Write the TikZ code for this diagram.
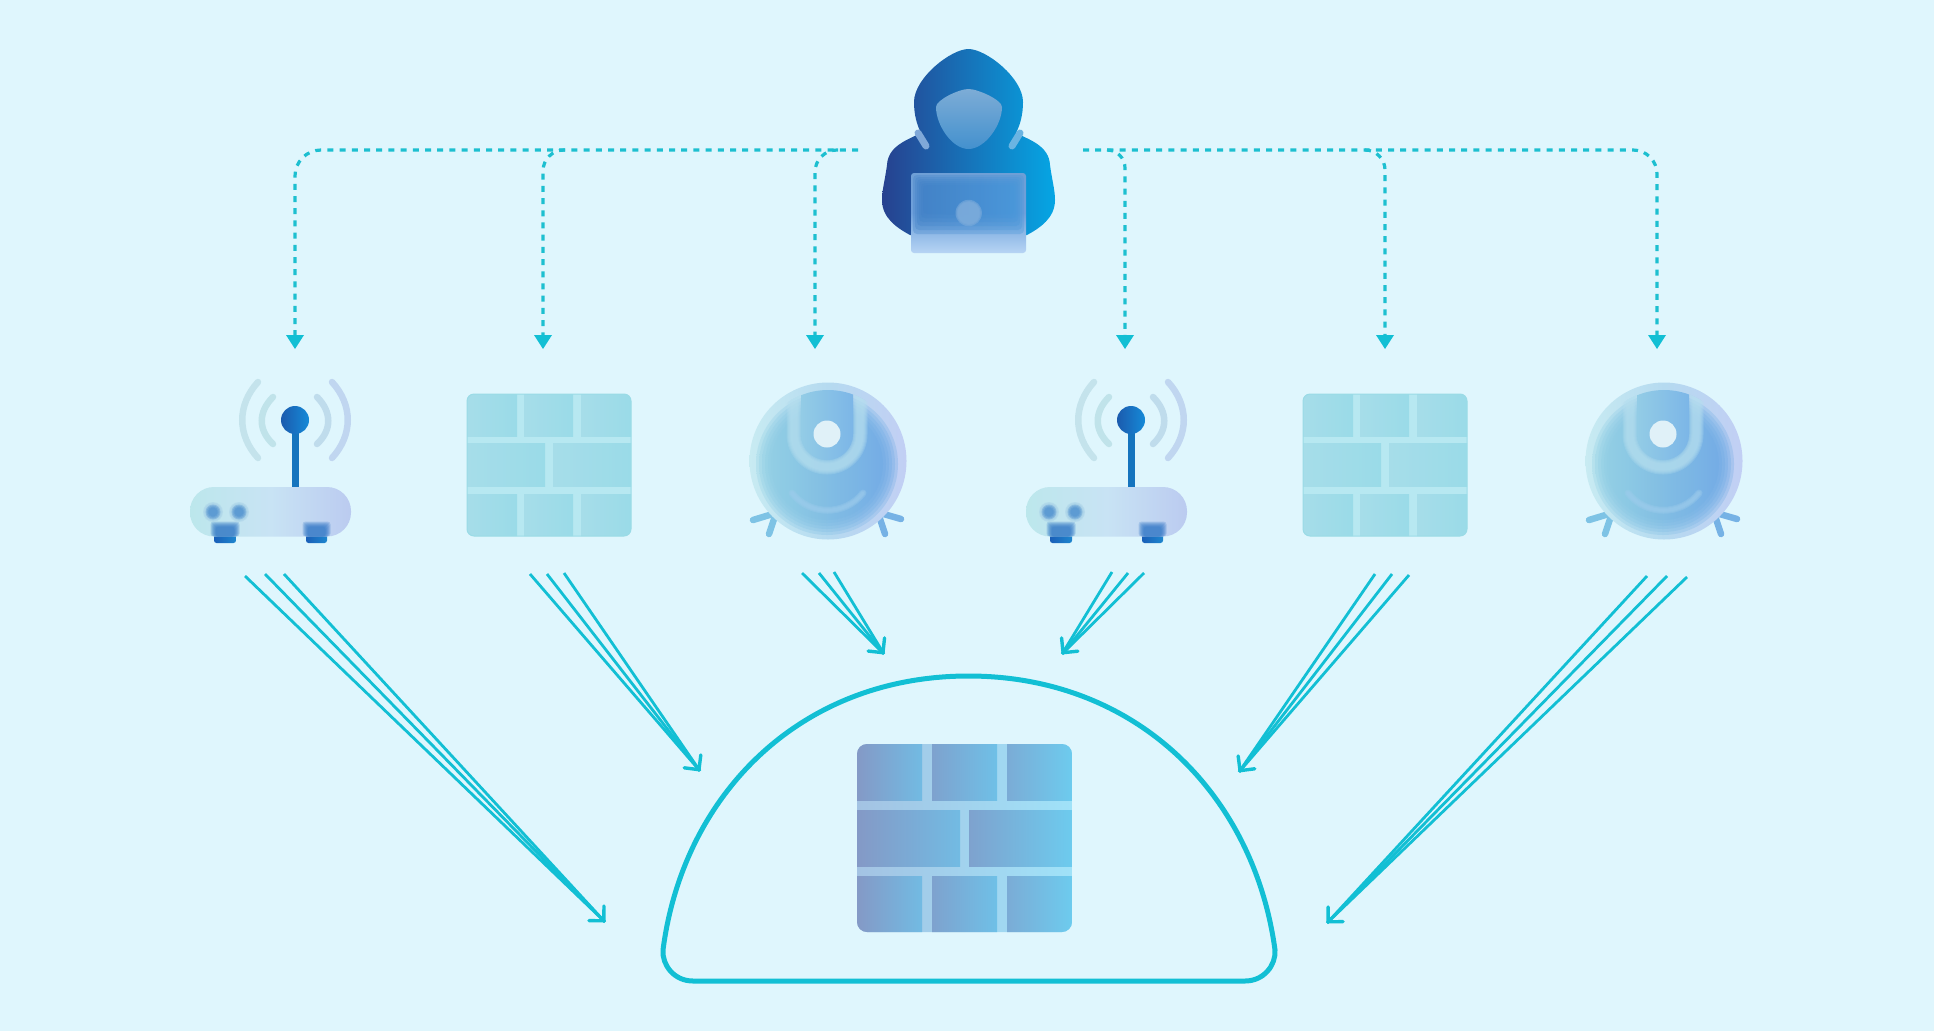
\documentclass[tikz,border=0pt]{standalone}
\usetikzlibrary{arrows.meta}
\definecolor{bgc}{HTML}{DFF6FD}
\definecolor{teal}{HTML}{12BFD4}
\definecolor{dashc}{HTML}{1DBFD0}
\definecolor{wavL}{HTML}{C4E3EC}\definecolor{wavIL}{HTML}{C0E3EA}
\definecolor{wavIR}{HTML}{BFDCEC}\definecolor{wavR}{HTML}{C0D6F0}
\definecolor{stemc}{HTML}{1574BE}\definecolor{ballL}{HTML}{1B5BAE}\definecolor{ballR}{HTML}{158AD8}
\definecolor{footL}{HTML}{1A5FB8}\definecolor{footR}{HTML}{1E86CE}\definecolor{footB}{HTML}{2A72C4}
\definecolor{routL}{HTML}{BCE7EC}\definecolor{routM}{HTML}{C8E3F4}\definecolor{routR}{HTML}{BBCBF0}
\definecolor{dotH}{HTML}{A9D2E8}\definecolor{dotC}{HTML}{4A8DCF}
\definecolor{mortS}{HTML}{B7E8F1}\definecolor{brikL}{HTML}{A6DDE9}\definecolor{brikR}{HTML}{9ADBE8}\definecolor{brikE}{HTML}{9ADBE6}
\definecolor{legL}{HTML}{7EC3E5}\definecolor{legR}{HTML}{76B2E5}
\definecolor{glassL}{HTML}{C8EBF2}\definecolor{glassM}{HTML}{B5DAF0}\definecolor{glassR}{HTML}{C2CFF4}
\definecolor{blueL}{HTML}{8DCEE3}\definecolor{blueR}{HTML}{69A7E4}
\definecolor{uband}{HTML}{B6DFEF}\definecolor{uInL}{HTML}{93CCE6}\definecolor{uInR}{HTML}{7CB6E7}
\definecolor{smile}{HTML}{9DCCEC}\definecolor{hubc}{HTML}{E0F1F8}
\definecolor{hoodL}{HTML}{27418F}\definecolor{hoodM}{HTML}{1576C0}\definecolor{hoodR}{HTML}{05A6E4}
\definecolor{bkA}{HTML}{8499C6}\definecolor{bkB}{HTML}{72BBE3}\definecolor{bkC}{HTML}{7EA2CE}
\definecolor{bkD}{HTML}{6FC0E7}\definecolor{bkE}{HTML}{7BACD6}\definecolor{bkF}{HTML}{6DCBEE}
\definecolor{mtL}{HTML}{A3C3E3}\definecolor{mtR}{HTML}{A0E2F8}
\definecolor{lapB}{HTML}{B7D4F4}\definecolor{lapC}{HTML}{8DB8E6}\definecolor{lapD}{HTML}{6E9FDB}\definecolor{lapT}{HTML}{6E9FD6}
\definecolor{lapIL}{HTML}{3F80C6}\definecolor{lapIR}{HTML}{4697DA}
\definecolor{mask1}{HTML}{7DACD6}\definecolor{mask2}{HTML}{4391CE}
\definecolor{strapc}{HTML}{7FA8D8}\definecolor{strapd}{HTML}{6AB4E2}
\definecolor{hubd}{HTML}{7BABDB}
\pgfdeclareverticalshading{lapshade}{100bp}{
  color(0bp)=(lapB); color(25bp)=(lapB); color(38bp)=(lapC); color(50bp)=(lapD); color(75bp)=(lapT); color(100bp)=(lapT)}
\tikzset{
  x=1pt,y=-1pt,
  dashflow/.style={draw=dashc,line width=3.2pt,dash pattern=on 6pt off 6.2pt,
    -{Triangle[length=14pt,width=18pt,color=teal,line width=0pt]}},
  fan/.style={draw=teal,line width=2.8pt},
  fanhead/.style={fan,-{Straight Barb[length=10.5pt,width=21pt,line width=3.4pt,round]}},
  dome/.style={draw=teal,line width=5pt},
  router/.pic={
    % waves
    \draw[line width=6.5pt,line cap=round,draw=wavL] (258,382) .. controls (237,405) and (237,435) .. (258,458);
    \draw[line width=6.5pt,line cap=round,draw=wavIL] (273,397) .. controls (258,412) and (258,430) .. (273,444);
    \draw[line width=6.5pt,line cap=round,draw=wavIR] (317,397) .. controls (332,412) and (332,430) .. (317,444);
    \draw[line width=6.5pt,line cap=round,draw=wavR] (332,382) .. controls (353,405) and (353,435) .. (332,458);
    % stem and ball
    \fill[stemc] (291.5,425) rectangle (298.5,488);
    \shade[left color=ballL,right color=ballR] (295,420) circle[radius=14];
    % feet
    \shade[left color=footL,right color=footR,rounded corners=2.5pt] (214,528) rectangle (236,543);
    \shade[left color=footL,right color=footR,rounded corners=2.5pt] (306,528) rectangle (327,543);
    % body
    \shade[left color=routL,right color=routR,middle color=routM,rounded corners=24pt] (190,487) rectangle (351,536.5);
    % blurred feet behind the glass
    \foreach \d in {3.5,2.5,1.5,0.5,-0.5,-1.5}{
      \fill[footB,opacity=.22,rounded corners=3pt] (214-\d,525-\d) rectangle (236+\d,536.5);
      \fill[footB,opacity=.22,rounded corners=3pt] (306-\d,525-\d) rectangle (327+\d,536.5);
    }
    % dots
    \foreach \cx in {213,239}{
      \foreach \r in {10,9,8}{\fill[dotH,opacity=.5] (\cx,512) circle[radius=\r];}
      \foreach \r in {7.5,6.5,5.5,4.5}{\fill[dotC,opacity=.32] (\cx,512) circle[radius=\r];}
    }
  },
  brick/.pic={
    \begin{scope}
      \clip[rounded corners=7pt] (467,394) rectangle (631,536);
      \fill[mortS] (467,394) rectangle (631,536);
      \foreach \a/\b/\c/\d in {467/394/517/436,524/394/573/436,581/394/631/436,
                               467/443.5/545/486.5,553/443.5/631/486.5,
                               467/494/517/536,524/494/573/536,581/494/631/536}{
        \shade[left color=brikL,right color=brikR] (\a,\b) rectangle (\c,\d);
      }
    \end{scope}
    \draw[brikE,line width=1pt,rounded corners=7pt] (467,394) rectangle (631,536);
  },
  robot/.pic={
    % legs
    \draw[line width=6.5pt,line cap=round,draw=legL] (753,520) -- (776,513);
    \draw[line width=6.5pt,line cap=round,draw=legL] (769,534) -- (775,516);
    \draw[line width=6.5pt,line cap=round,draw=legR] (901,519) -- (880,513);
    \draw[line width=6.5pt,line cap=round,draw=legR] (885,534) -- (879,516);
    % glass disc
    \shade[left color=glassL,right color=glassR,middle color=glassM] (828,461) circle[radius=78.5];
    % inner blue with blurred rim
    \foreach \r in {71,68,65,62,59,56}{
      \shade[left color=blueL,right color=blueR,opacity=.28] (827,464) circle[radius=\r];
    }
    % U band (blurred) and U interior, kept inside the disc
    \begin{scope}
      \clip (828,461) circle[radius=71];
      \foreach \w in {15,13,11,9,7}{
        \draw[draw=uband,line width=\w pt,opacity=.26] (794,380)
           -- (794,434) arc[start angle=180,delta angle=-180,radius=33] -- (860,380);
      }
      \shade[left color=uInL,right color=uInR] (801,380) -- (801,434)
         arc[start angle=180,delta angle=-180,radius=26] -- (853,380) -- cycle;
    \end{scope}
    % smile
    \foreach \w in {7,5,3}{
      \draw[draw=smile,line width=\w pt,line cap=round,opacity=.35] (792,493) .. controls (810,516) and (845,516) .. (863,493);
    }
    % centre
    \fill[hubc] (827,434) circle[radius=13.5];
  }
}
\begin{document}
\begin{tikzpicture}
\useasboundingbox (0,0) rectangle (1934,1031);
\fill[bgc] (0,0) rectangle (1934,1031);

% named anchor points of the connectors
\coordinate (hackL) at (858,150);
\coordinate (hackR) at (1083,150);
\coordinate (br2) at (565,150);
\coordinate (br3) at (838,150);
\coordinate (br5) at (1107,150);
\coordinate (br6) at (1365,150);
\coordinate (in1) at (295,349);
\coordinate (in2) at (543,349);
\coordinate (in3) at (815,349);
\coordinate (in4) at (1125,349);
\coordinate (in5) at (1385,349);
\coordinate (in6) at (1657,349);
\draw[dashflow,rounded corners=26pt] (hackL) -| (in1);
\draw[dashflow,rounded corners=21pt] (br2) -| (in2);
\draw[dashflow,rounded corners=22pt] (br3) -| (in3);
\draw[dashflow,rounded corners=24pt] (hackR) -| (in6);
\draw[dashflow,rounded corners=18pt] (br5) -| (in4);
\draw[dashflow,rounded corners=20pt] (br6) -| (in5);

% hacker
\shade[left color=hoodL,middle color=hoodM,right color=hoodR]
  (968.5,49) .. controls (986,49) and (1023,78) .. (1023,102)
  .. controls (1023,115) and (1020,125) .. (1016,133)
  .. controls (1030,140) and (1049,146) .. (1050,165)
  .. controls (1052,180) and (1055,190) .. (1055,200)
  .. controls (1055,218) and (1040,228) .. (1027,235)
  -- (910,235)
  .. controls (897,228) and (882,218) .. (882,200)
  .. controls (882,190) and (885,180) .. (887,165)
  .. controls (888,146) and (907,140) .. (921,133)
  .. controls (917,125) and (914,115) .. (914,102)
  .. controls (914,78) and (951,49) .. (968.5,49) -- cycle;
\shade[top color=mask1,bottom color=mask2]
  (968.5,89) .. controls (978,89) and (1002,100) .. (1002,107)
  .. controls (1002,125) and (985,149) .. (968.5,149)
  .. controls (952,149) and (936,125) .. (936,107)
  .. controls (936,100) and (959,89) .. (968.5,89) -- cycle;
\draw[line width=7pt,line cap=round,draw=strapc] (918,133) -- (926,146);
\draw[line width=7pt,line cap=round,draw=strapd] (1020,133) -- (1012,146);
% laptop
\shade[shading=lapshade,rounded corners=3pt] (911,173) rectangle (1026,253);
\foreach \i in {2,4,6,8,10,12}{
  \shade[left color=lapIL,right color=lapIR,opacity=.3,rounded corners=4pt]
     (911+\i,173+\i) rectangle (1026-\i,238-\i*2);
}
\foreach \r in {13.2,12,11}{\fill[hubd,opacity=.6] (968.7,213) circle[radius=\r];}

% devices
\pic at (0,0) {router};
\pic at (836,0) {router};
\pic at (0,0) {brick};
\pic at (836,0) {brick};
\pic at (0,0) {robot};
\pic at (836,0) {robot};

% fans of attack lines
\coordinate (s1a) at (245,576); \coordinate (s1b) at (265,574); \coordinate (s1c) at (284,574); \coordinate (t1) at (605,922);
\coordinate (s2a) at (530,574); \coordinate (s2b) at (547,574); \coordinate (s2c) at (564,573); \coordinate (t2) at (700,771);
\coordinate (s3a) at (802,573); \coordinate (s3b) at (819,573); \coordinate (s3c) at (834,572); \coordinate (t3) at (884,654);
\coordinate (s4a) at (1112,572); \coordinate (s4b) at (1128,573); \coordinate (s4c) at (1144,573); \coordinate (t4) at (1062,654);
\coordinate (s5a) at (1375,574); \coordinate (s5b) at (1392,574); \coordinate (s5c) at (1409,575); \coordinate (t5) at (1239,772);
\coordinate (s6a) at (1647,576); \coordinate (s6b) at (1667,576); \coordinate (s6c) at (1687,577); \coordinate (t6) at (1327,923);
\foreach \g in {1,...,6}{
  \draw[fan] (s\g a) -- (t\g);
  \draw[fan] (s\g c) -- (t\g);
  \draw[fanhead] (s\g b) -- (t\g);
}

% dome
\draw[dome] (693,981) -- (1245,981)
  .. controls (1264,981) and (1276,965) .. (1275,950)
  .. controls (1254,795) and (1137,676) .. (968.5,676)
  .. controls (800,676) and (683,795) .. (663,950)
  .. controls (662,965) and (674,981) .. (693,981) -- cycle;

% central firewall
\begin{scope}
  \clip[rounded corners=10pt] (857,744) rectangle (1072,932);
  \shade[left color=mtL,right color=mtR] (857,744) rectangle (1072,932);
  \shade[left color=bkA,right color=bkB] (857,744) rectangle (922,800.5);
  \shade[left color=bkC,right color=bkD] (932,744) rectangle (997,800.5);
  \shade[left color=bkE,right color=bkF] (1007,744) rectangle (1072,800.5);
  \shade[left color=bkA,right color=bkB] (857,810) rectangle (960,866.5);
  \shade[left color=bkC,right color=bkF] (969,810) rectangle (1072,866.5);
  \shade[left color=bkA,right color=bkB] (857,876) rectangle (922,932);
  \shade[left color=bkC,right color=bkD] (932,876) rectangle (997,932);
  \shade[left color=bkE,right color=bkF] (1007,876) rectangle (1072,932);
\end{scope}
\end{tikzpicture}
\end{document}
